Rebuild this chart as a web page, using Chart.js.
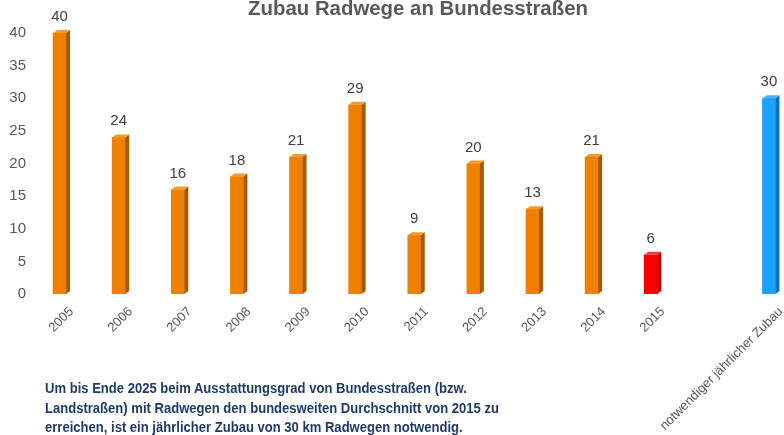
<!DOCTYPE html>
<html>
<head>
<meta charset="utf-8">
<script src="https://cdn.jsdelivr.net/npm/chart.js@4/dist/chart.umd.min.js"></script>
<style>
  html, body { margin: 0; padding: 0; background: #fff; }
  body { width: 784px; height: 435px; overflow: hidden; position: relative; }
  #wrap { position: absolute; left: 0; top: 0; width: 800px; height: 435px; }
  #note {
    position: absolute; left: 45px; top: 379px;
    font: bold 14.5px "Liberation Sans", Arial, sans-serif;
    line-height: 19.5px; color: #1F3A6E; white-space: nowrap;
    transform: scaleX(0.9); transform-origin: left top;
  }
</style>
</head>
<body>
<div id="wrap"><canvas id="chart" width="800" height="435"></canvas></div>
<div id="note">Um bis Ende 2025 beim Ausstattungsgrad von Bundesstraßen (bzw.<br>Landstraßen) mit Radwegen den bundesweiten Durchschnitt von 2015 zu<br>erreichen, ist ein jährlicher Zubau von 30 km Radwegen notwendig.</div>
<script>
const title = 'Zubau Radwege an Bundesstraßen';
const categories = ['2005', '2006', '2007', '2008', '2009', '2010', '2011', '2012', '2013', '2014', '2015', '', 'notwendiger jährlicher Zubau'];
const values = [40, 24, 16, 18, 21, 29, 9, 20, 13, 21, 6, null, 30];
const yTicks = [0, 5, 10, 15, 20, 25, 30, 35, 40];

const ORANGE = ['#F08000', '#A65A00', '#F39A2E'];
const RED = ['#FF0000', '#B00000', '#FF3A3A'];
const BLUE = ['#1EA0FF', '#176FB3', '#48B2FF'];
const palette = categories.map((c, i) => i === 10 ? RED : i === 12 ? BLUE : ORANGE);

const FAMILY = '"Liberation Sans", Arial, sans-serif';

// fake 3D: side + top faces drawn from the bar elements
const bars3d = {
  id: 'bars3d',
  afterDatasetsDraw(chart) {
    const ctx = chart.ctx;
    const dx = 4, dy = 3;
    chart.getDatasetMeta(0).data.forEach((bar, i) => {
      if (values[i] == null) return;
      const { x, y, base, width } = bar.getProps(['x', 'y', 'base', 'width'], true);
      const l = x - width / 2, r = x + width / 2;
      ctx.save();
      ctx.fillStyle = palette[i][1];
      ctx.beginPath();
      ctx.moveTo(r, y); ctx.lineTo(r + dx, y - dy); ctx.lineTo(r + dx, base - dy); ctx.lineTo(r, base);
      ctx.closePath(); ctx.fill();
      ctx.fillStyle = palette[i][2];
      ctx.beginPath();
      ctx.moveTo(l, y); ctx.lineTo(l + dx, y - dy); ctx.lineTo(r + dx, y - dy); ctx.lineTo(r, y);
      ctx.closePath(); ctx.fill();
      // value label
      ctx.fillStyle = '#404040';
      ctx.font = `15px ${FAMILY}`;
      ctx.textAlign = 'center';
      ctx.textBaseline = 'alphabetic';
      ctx.fillText(String(values[i]), x, y - 12);
      ctx.restore();
    });
  },
  afterDraw(chart) {
    const ctx = chart.ctx;
    ctx.save();
    ctx.fillStyle = '#595959';
    ctx.font = `bold 20.4px ${FAMILY}`;
    ctx.textAlign = 'center';
    ctx.textBaseline = 'alphabetic';
    ctx.fillText(title, 418, 15);
    ctx.restore();
  }
};

new Chart(document.getElementById('chart'), {
  type: 'bar',
  data: {
    labels: categories,
    datasets: [{
      data: values,
      backgroundColor: palette.map(p => p[0]),
      barThickness: 13,
      borderWidth: 0
    }]
  },
  options: {
    responsive: false,
    animation: false,
    devicePixelRatio: 1,
    layout: { padding: { top: 33, right: 1.5, left: 0, bottom: 0 } },
    plugins: { legend: { display: false }, tooltip: { enabled: false } },
    scales: {
      x: {
        grid: { display: false, drawTicks: false },
        border: { display: false },
        ticks: {
          color: '#595959', font: { family: FAMILY, size: 13 }, autoSkip: false,
          minRotation: 45, maxRotation: 45, labelOffset: 12, padding: 10
        },
        afterFit: s => { s.height = 141; }
      },
      y: {
        min: 0, max: 40,
        grid: { display: false, drawTicks: false },
        border: { display: false },
        afterBuildTicks: s => { s.ticks = yTicks.map(v => ({ value: v })); },
        ticks: { color: '#595959', font: { family: FAMILY, size: 15 }, padding: 4 },
        afterFit: s => { s.width = 30; }
      }
    }
  },
  plugins: [bars3d]
});
</script>
</body>
</html>
